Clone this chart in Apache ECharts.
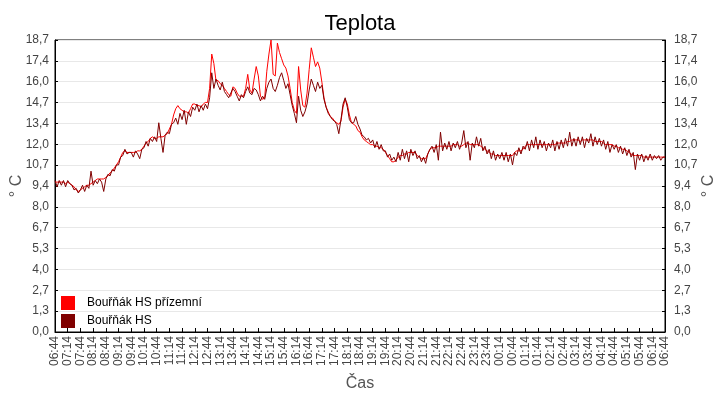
<!DOCTYPE html>
<html>
<head>
<meta charset="utf-8">
<title>Teplota</title>
<script src="https://cdn.jsdelivr.net/npm/echarts@6/dist/echarts.min.js"></script>
<style>
  html, body { margin: 0; padding: 0; background: #fff; }
  #chart { width: 720px; height: 400px; }
</style>
</head>
<body>
<div id="chart"></div>
<script>
// vzorky po 5 minutach, od 06:44 do 06:44
var startMinute = 6 * 60 + 44;
var stepMinutes = 5;

var yTickLabels = ['0,0', '1,3', '2,7', '4,0', '5,3', '6,7', '8,0', '9,4',
  '10,7', '12,0', '13,4', '14,7', '16,0', '17,4', '18,7'];

// Bourak HS prizemni (cervena)
var groundTemp = [
  9.6, 9.6, 9.6, 9.6, 9.6, 9.5,
  9.6, 9.5, 9.4, 9.3, 9.1, 9.0,
  9.1, 9.2, 9.3, 9.4, 9.4, 9.5,
  9.6, 9.7, 9.8, 9.8, 9.8, 9.8,
  9.9, 10.0, 10.2, 10.3, 10.5, 10.7,
  10.9, 11.2, 11.5, 11.6, 11.5, 11.5,
  11.5, 11.5, 11.5, 11.6, 11.6, 11.7,
  11.9, 12.1, 12.2, 12.4, 12.5, 12.4,
  12.4, 12.5, 12.5, 12.5, 12.6, 12.7,
  13.0, 13.3, 13.9, 14.3, 14.5, 14.3,
  14.2, 14.1, 14.1, 14.0, 14.3, 14.6,
  14.6, 14.5, 14.5, 14.4, 14.6, 14.7,
  14.7, 15.6, 17.8, 17.2, 16.1, 16.1,
  15.9, 15.8, 15.6, 15.4, 15.2, 15.1,
  15.7, 15.6, 15.3, 15.1, 15.1, 15.1,
  15.6, 16.5, 15.5, 15.3, 16.2, 17.0,
  16.4, 15.1, 14.9, 15.0, 16.7, 17.8,
  18.7, 16.5, 16.4, 18.5, 17.9, 17.5,
  17.1, 16.9, 16.4, 15.6, 14.7, 14.2,
  14.0, 17.0, 15.5, 14.5, 14.4, 15.3,
  16.8, 18.2, 17.6, 17.0, 17.3, 16.9,
  16.0, 15.0, 14.4, 14.1, 13.8, 13.7,
  13.5, 13.4, 13.3, 13.5, 14.4, 14.9,
  14.6, 13.9, 13.4, 13.3, 13.2, 12.9,
  12.8, 12.5, 12.3, 12.2, 12.1, 12.0,
  12.0, 11.9, 11.9, 11.8, 11.8, 11.7,
  11.5, 11.3, 11.1, 10.9, 10.9, 11.0,
  11.2, 11.3, 11.3, 11.4, 11.4, 11.5,
  11.5, 11.5, 11.5, 11.3, 11.2, 11.1,
  11.1, 11.1, 11.4, 11.7, 11.8, 11.8,
  11.8, 11.9, 11.9, 11.9, 11.9, 11.9,
  11.9, 11.9, 12.0, 12.0, 12.0, 11.9,
  11.9, 12.0, 12.1, 12.1, 12.0, 12.0,
  12.0, 12.0, 12.0, 11.9, 11.8, 11.7,
  11.6, 11.5, 11.4, 11.4, 11.3, 11.3,
  11.3, 11.3, 11.3, 11.3, 11.3, 11.3,
  11.3, 11.5, 11.6, 11.6, 11.6, 11.7,
  11.9, 12.0, 12.0, 12.0, 12.0, 12.0,
  12.0, 12.0, 12.0, 12.0, 12.0, 12.0,
  12.0, 12.0, 12.0, 12.1, 12.1, 12.1,
  12.1, 12.1, 12.2, 12.2, 12.3, 12.3,
  12.3, 12.3, 12.2, 12.3, 12.3, 12.3,
  12.3, 12.3, 12.3, 12.2, 12.2, 12.2,
  12.2, 12.1, 12.0, 12.0, 12.0, 12.0,
  11.9, 11.9, 11.8, 11.8, 11.7, 11.7,
  11.6, 11.5, 11.4, 11.3, 11.3, 11.3,
  11.3, 11.3, 11.2, 11.2, 11.2, 11.2,
  11.2, 11.2, 11.2, 11.2, 11.2, 11.2,
  11.2
];

// Bourak HS (tmave cervena)
var stationTemp = [
  9.7, 9.3, 9.7, 9.4, 9.7, 9.3,
  9.7, 9.5, 9.4, 9.1, 9.2, 8.9,
  9.1, 9.4, 9.0, 9.4, 9.2, 10.3,
  9.4, 9.7, 9.5, 9.8, 9.6, 9.0,
  9.8, 10.1, 10.0, 10.4, 10.3, 10.7,
  10.7, 11.2, 11.3, 11.7, 11.4, 11.5,
  11.5, 11.2, 11.6, 11.4, 11.1, 11.7,
  11.8, 12.2, 11.9, 12.4, 12.2, 12.5,
  12.2, 13.4, 12.4, 11.5, 12.6, 12.8,
  12.7, 13.3, 13.4, 13.7, 13.3, 14.0,
  13.6, 14.2, 13.3, 14.1, 13.8, 14.4,
  14.2, 14.6, 14.1, 14.5, 14.2, 14.6,
  14.3, 15.0, 16.6, 15.6, 16.2, 15.8,
  15.5, 16.0, 15.4, 15.2, 15.0, 15.3,
  15.6, 15.4, 15.1, 14.8, 15.2, 15.0,
  15.4, 15.7, 15.3, 15.2, 15.6, 15.5,
  15.2, 14.8, 15.1, 14.9, 15.6, 16.0,
  16.2, 15.6, 15.4, 15.8, 16.3, 16.6,
  16.1, 15.6, 15.9, 15.2, 14.5, 14.0,
  13.4, 15.1, 14.2, 13.8, 14.1, 14.6,
  15.5, 16.2, 15.8, 15.4, 16.0, 15.6,
  15.8, 14.9, 14.4, 14.0, 13.8, 13.6,
  13.5, 13.3, 12.7, 13.6, 14.6, 15.0,
  14.4, 13.6, 13.4, 13.4, 13.8, 13.3,
  13.0, 12.6, 12.5, 12.3, 12.4, 12.1,
  12.3, 11.8, 12.2, 11.7, 12.0, 11.6,
  11.6, 11.2, 11.4, 11.0, 11.2, 10.9,
  11.5, 11.0, 11.7, 11.1, 11.6, 10.9,
  11.7, 11.3, 11.6, 11.1, 11.3, 10.9,
  11.2, 10.8, 11.4, 11.7, 11.9, 11.5,
  12.0, 11.0, 12.8, 11.6, 12.1, 11.7,
  12.2, 11.6, 12.1, 11.8, 12.2, 11.7,
  12.1, 12.9, 11.8, 12.2, 11.0, 12.1,
  11.8, 12.5, 11.9, 12.4, 11.6, 11.9,
  11.4, 11.7, 11.1, 11.6, 11.0, 11.4,
  11.1, 11.5, 11.0, 11.5, 10.9, 11.4,
  10.7, 11.5, 11.3, 11.8, 11.4, 11.9,
  11.7, 12.2, 11.6, 12.3, 11.8, 12.5,
  11.7, 12.3, 11.8, 12.2, 11.6, 12.1,
  11.8, 12.3, 11.6, 12.2, 11.7, 12.3,
  11.8, 12.4, 11.9, 12.8, 11.9, 12.4,
  11.9, 12.5, 12.0, 12.5, 11.8, 12.4,
  12.1, 12.7, 11.9, 12.5, 12.0, 12.4,
  11.9, 12.3, 11.7, 12.2, 11.5, 12.0,
  11.7, 12.0, 11.5, 11.9, 11.4, 11.8,
  11.3, 11.7, 11.2, 11.5, 10.4, 11.4,
  11.0, 11.4, 10.9, 11.3, 11.0, 11.4,
  11.0, 11.3, 11.1, 11.3, 11.0, 11.2,
  11.2
];

function pad(n) { return n < 10 ? '0' + n : '' + n; }

var times = [];
for (var i = 0; i < stationTemp.length; i++) {
  var m = (startMinute + i * stepMinutes) % 1440;
  times.push(pad(Math.floor(m / 60)) + ':' + pad(m % 60));
}

var yMax = 18.7;
var yInterval = yMax / 14;
var font = 'Liberation Sans, Arial, sans-serif';

function yLabel(v) {
  return yTickLabels[Math.round(v / yInterval)] || '';
}
function everyHalfHour(idx) { return idx % 6 === 0; }

var chart = echarts.init(document.getElementById('chart'), null, { renderer: 'canvas' });

function yAxisDef(pos) {
  return {
    type: 'value',
    position: pos,
    min: 0,
    max: yMax,
    interval: yInterval,
    name: '° C',
    nameLocation: 'middle',
    nameRotate: 90,
    nameGap: pos === 'left' ? 30 : 36,
    nameMoveOverlap: false,
    nameTextStyle: { fontFamily: font, fontSize: 16, color: '#555' },
    axisLine: { show: true, lineStyle: { color: '#000', width: 1 } },
    axisTick: { show: true, inside: true, length: 3, lineStyle: { color: '#000' } },
    axisLabel: { formatter: yLabel, fontFamily: font, fontSize: 12, color: '#444', margin: pos === 'left' ? 6 : 9 },
    splitLine: { show: pos === 'left', lineStyle: { color: '#e8e8e8', width: 1 } }
  };
}

var option = {
  animation: false,
  backgroundColor: '#fff',
  title: {
    text: 'Teplota',
    left: 'center',
    top: 8,
    textStyle: { fontFamily: font, fontSize: 22, fontWeight: 'normal', color: '#000' }
  },
  grid: {
    left: 55,
    right: 55,
    top: 40,
    bottom: 68,
    containLabel: false,
    outerBoundsMode: 'none',
    show: true,
    borderColor: '#000',
    borderWidth: 1
  },
  legend: {
    orient: 'vertical',
    left: 61,
    top: 296,
    padding: 0,
    itemWidth: 14,
    itemHeight: 14,
    itemGap: 4,
    icon: 'rect',
    textStyle: { fontFamily: font, fontSize: 12, color: '#000', padding: [0, 0, 0, 7] },
    data: ['Bouřňák HS přízemní', 'Bouřňák HS']
  },
  xAxis: {
    type: 'category',
    boundaryGap: false,
    data: times,
    name: 'Čas',
    nameLocation: 'middle',
    nameGap: 44,
    nameMoveOverlap: false,
    nameTextStyle: { fontFamily: font, fontSize: 16, color: '#555' },
    axisLine: { lineStyle: { color: '#000', width: 1 } },
    axisTick: { inside: true, length: 4, interval: everyHalfHour, lineStyle: { color: '#000' } },
    axisLabel: { interval: everyHalfHour, rotate: 90, fontFamily: font, fontSize: 12, color: '#444', margin: 4 },
    splitLine: { show: false }
  },
  yAxis: [yAxisDef('left'), yAxisDef('right')],
  series: [
    {
      name: 'Bouřňák HS přízemní',
      type: 'line',
      yAxisIndex: 0,
      data: groundTemp,
      showSymbol: false,
      itemStyle: { color: '#ff0000' },
      lineStyle: { color: '#ff0000', width: 1 }
    },
    {
      name: 'Bouřňák HS',
      type: 'line',
      yAxisIndex: 0,
      data: stationTemp,
      showSymbol: false,
      itemStyle: { color: '#800000' },
      lineStyle: { color: '#800000', width: 1 }
    }
  ]
};

chart.setOption(option);
</script>
</body>
</html>
